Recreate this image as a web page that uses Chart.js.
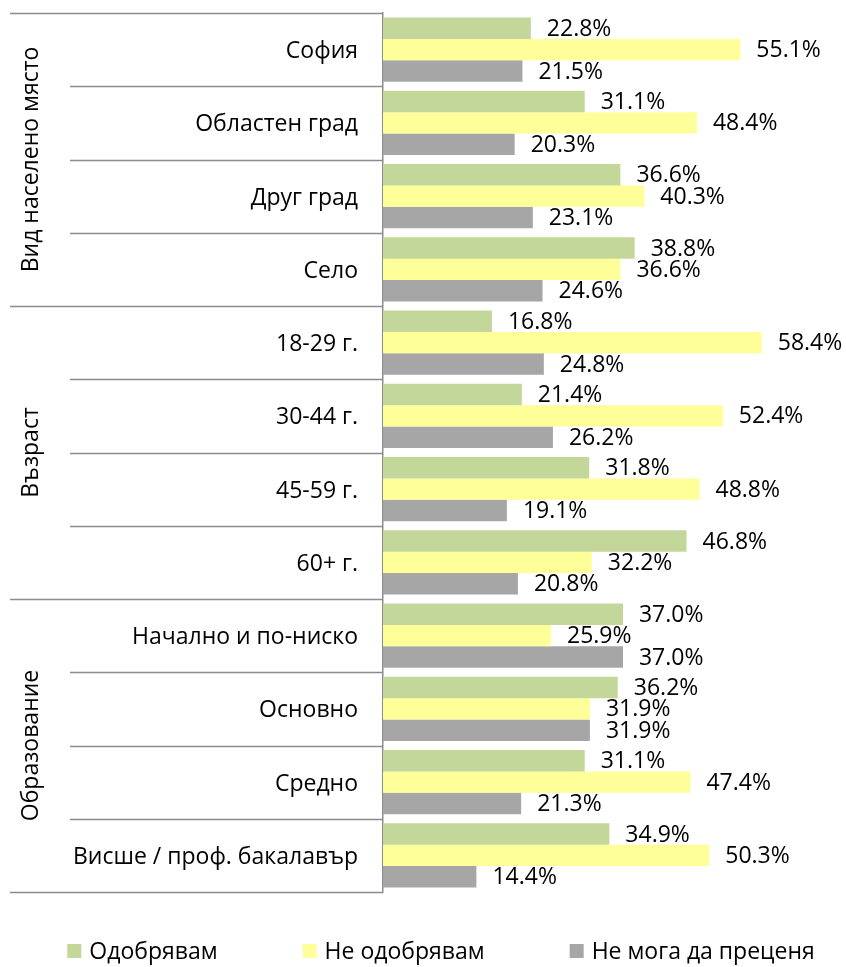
<!DOCTYPE html>
<html>
<head>
<meta charset="utf-8">
<script src="https://cdn.jsdelivr.net/npm/chart.js@4.4.1/dist/chart.umd.min.js"></script>
<style>
  html, body { margin: 0; padding: 0; background: #fff; }
  #wrap { width: 846px; height: 967px; position: relative; }
</style>
</head>
<body>
<div id="wrap"><canvas id="c"></canvas></div>
<script>
const categories = [
  'София', 'Областен град', 'Друг град', 'Село',
  '18-29 г.', '30-44 г.', '45-59 г.', '60+ г.',
  'Начално и по-ниско', 'Основно', 'Средно', 'Висше / проф. бакалавър'
];
const groups = [
  { label: 'Вид населено място', from: 0, to: 3 },
  { label: 'Възраст', from: 4, to: 7 },
  { label: 'Образование', from: 8, to: 11 }
];
const seriesNames = ['Одобрявам', 'Не одобрявам', 'Не мога да преценя'];
const approve    = [22.8, 31.1, 36.6, 38.8, 16.8, 21.4, 31.8, 46.8, 37.0, 36.2, 31.1, 34.9];
const disapprove = [55.1, 48.4, 40.3, 36.6, 58.4, 52.4, 48.8, 32.2, 25.9, 31.9, 47.4, 50.3];
const cannotSay  = [21.5, 20.3, 23.1, 24.6, 24.8, 26.2, 19.1, 20.8, 37.0, 31.9, 21.3, 14.4];
const colors = ['#C4D79B', '#FFFF99', '#A6A6A6'];

const FONT = "'Open Sans', 'Noto Sans', sans-serif";
const LINE_COLOR = '#8c8c8c';

const decorPlugin = {
  id: 'decor',
  afterDatasetsDraw(chart) {
    const ctx = chart.ctx;
    const y = chart.scales.y;
    const axisX = chart.chartArea.left;
    ctx.save();
    // separator lines
    ctx.strokeStyle = LINE_COLOR;
    ctx.lineWidth = 1.3;
    const groupBounds = new Set();
    groups.forEach(g => { groupBounds.add(g.from); groupBounds.add(g.to + 1); });
    for (let b = 0; b <= categories.length; b++) {
      const py = Math.round(y.getPixelForValue(b - 0.5)) + 0.5;
      const x0 = groupBounds.has(b) ? 10 : 70;
      ctx.beginPath();
      ctx.moveTo(x0, py);
      ctx.lineTo(axisX, py);
      ctx.stroke();
    }
    // group labels
    ctx.fillStyle = '#000';
    ctx.font = '23px ' + FONT;
    ctx.textAlign = 'center';
    ctx.textBaseline = 'middle';
    groups.forEach(g => {
      const cy = (y.getPixelForValue(g.from - 0.5) + y.getPixelForValue(g.to + 0.5)) / 2;
      ctx.save();
      ctx.translate(31, cy);
      ctx.rotate(-Math.PI / 2);
      ctx.fillText(g.label, 0, 0);
      ctx.restore();
    });
    // value labels
    ctx.textAlign = 'left';
    ctx.font = '23px ' + FONT;
    chart.data.datasets.forEach((ds, di) => {
      const meta = chart.getDatasetMeta(di);
      meta.data.forEach((bar, i) => {
        ctx.fillText(ds.data[i].toFixed(1) + '%', bar.x + 16, bar.y + 1);
      });
    });
    // legend
    ctx.font = '23px ' + FONT;
    const box = 14, gapText = 8, gapItem = 85;
    const widths = chart.data.datasets.map(ds => box + gapText + ctx.measureText(ds.label).width);
    const total = widths.reduce((a, b) => a + b, 0) + gapItem * (widths.length - 1);
    let lx = 441 - total / 2;
    const ly = 951;
    chart.data.datasets.forEach((ds, di) => {
      ctx.fillStyle = ds.backgroundColor;
      ctx.fillRect(lx, ly - box / 2, box, box);
      ctx.fillStyle = '#000';
      ctx.fillText(ds.label, lx + box + gapText, ly + 1);
      lx += widths[di] + gapItem;
    });
    ctx.restore();
  }
};

new Chart(document.getElementById('c'), {
  type: 'bar',
  data: {
    labels: categories,
    datasets: [
      { label: seriesNames[0], data: approve, backgroundColor: colors[0] },
      { label: seriesNames[1], data: disapprove, backgroundColor: colors[1] },
      { label: seriesNames[2], data: cannotSay, backgroundColor: colors[2] }
    ]
  },
  options: {
    indexAxis: 'y',
    responsive: true,
    maintainAspectRatio: false,
    animation: false,
    barPercentage: 1.0,
    categoryPercentage: 0.874,
    layout: { padding: { left: 45, right: 9, top: 13, bottom: 75 } },
    plugins: {
      legend: { display: false },
      tooltip: { enabled: false }
    },
    scales: {
      x: { display: false, min: 0, max: 70 },
      y: {
        grid: { display: false, drawTicks: false },
        border: { display: true, color: LINE_COLOR, width: 1.5 },
        ticks: { color: '#000', padding: 25, labelOffset: 2, font: { family: FONT, size: 23 } },
        afterFit(scale) {
          scale.width = 338;
          scale.paddingTop = 0;
          scale.paddingBottom = 0;
        }
      }
    }
  },
  plugins: [decorPlugin]
});
</script>
</body>
</html>
